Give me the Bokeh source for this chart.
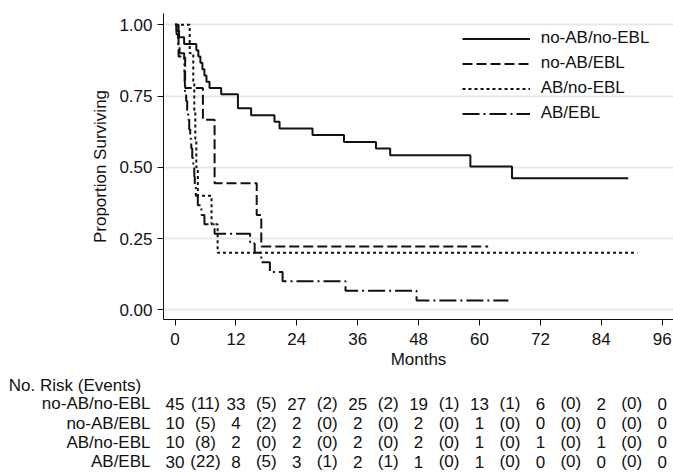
from bokeh.plotting import figure
from bokeh.models import Range1d, FixedTicker, Legend, LegendItem, PrintfTickFormatter
from bokeh.layouts import column
from bokeh.embed import file_html
from bokeh.resources import INLINE
from bokeh.core.properties import value

# ---------------- data ----------------
groups = ["no-AB/no-EBL", "no-AB/EBL", "AB/no-EBL", "AB/EBL"]
table_header = "No. Risk (Events)"

# Kaplan-Meier step curves (time in months, proportion surviving)
t_noab_noebl = [0, 0.3, 0.8, 1.8, 4.2, 4.6, 5.0, 5.4, 5.8, 6.2, 6.8, 9.1, 12.4, 15.0,
                19.6, 20.6, 27.1, 33.3, 39.6, 42.4, 58.2, 66.4, 89.3]
s_noab_noebl = [1.0, 0.978, 0.956, 0.933, 0.911, 0.889, 0.867, 0.844, 0.822, 0.800,
                0.778, 0.756, 0.707, 0.683, 0.660, 0.636, 0.613, 0.589, 0.566, 0.542,
                0.503, 0.462, 0.462]

t_noab_ebl = [0, 0.7, 2.0, 5.5, 7.8, 16.1, 17.0, 61.7]
s_noab_ebl = [1.0, 0.889, 0.778, 0.667, 0.444, 0.333, 0.222, 0.222]

t_ab_noebl = [0, 2.9, 3.6, 3.8, 4.0, 4.2, 4.5, 7.2, 8.4, 91.1]
s_ab_noebl = [1.0, 0.9, 0.8, 0.7, 0.6, 0.5, 0.4, 0.3, 0.2, 0.2]

t_ab_ebl = [0, 0.3, 0.6, 0.9, 1.8, 1.85, 1.9, 1.95, 2.2, 2.4, 2.6, 2.8, 3.0, 3.2, 3.4,
            3.6, 3.8, 3.9, 4.1, 4.5, 5.2, 5.8, 7.8, 14.8, 15.7, 17.0, 18.7, 21.2,
            33.6, 47.6, 65.7]
s_ab_ebl = [1.0, 0.967, 0.933, 0.900, 0.867, 0.833, 0.800, 0.767, 0.733, 0.700, 0.667,
            0.633, 0.600, 0.567, 0.533, 0.500, 0.467, 0.433, 0.400, 0.367, 0.333,
            0.300, 0.267, 0.233, 0.200, 0.167, 0.133, 0.100, 0.067, 0.033, 0.033]

# axis ticks
month_ticks = [0, 12, 24, 36, 48, 60, 72, 84, 96]
y_ticks = [0, 0.25, 0.5, 0.75, 1.0]

# risk table: number at risk at each tick, events in each interval
risk_noab_noebl = [45, 33, 27, 25, 19, 13, 6, 2, 0]
events_noab_noebl = [11, 5, 2, 2, 1, 1, 0, 0]
risk_noab_ebl = [10, 4, 2, 2, 2, 1, 0, 0, 0]
events_noab_ebl = [5, 2, 0, 0, 0, 0, 0, 0]
risk_ab_noebl = [10, 2, 2, 2, 2, 1, 1, 1, 0]
events_ab_noebl = [8, 0, 0, 0, 0, 0, 0, 0]
risk_ab_ebl = [30, 8, 3, 2, 1, 1, 0, 0, 0]
events_ab_ebl = [22, 5, 1, 1, 0, 0, 0, 0]

# ---------------- style / layout ----------------
FONT = "Liberation Sans"
FS = "17px"
INK = "#111111"
W, H = 673, 475
ML, MT = 163, 13
FRAME_H = 306
MB = 56
H1 = MT + FRAME_H + MB
H2 = H - H1
px_per_month = (661.7 - 174.5) / 96
x_lo = -(174.5 - ML) / px_per_month
x_hi = x_lo + (W - ML) / px_per_month
xr = Range1d(x_lo, x_hi)

p = figure(width=W, height=H1, x_range=xr, y_range=Range1d(-0.034, 1.0396),
           output_backend="svg", toolbar_location=None,
           min_border_left=ML, min_border_right=0, min_border_top=MT, min_border_bottom=MB)
p.outline_line_color = None
p.xgrid.visible = False
p.ygrid.ticker = FixedTicker(ticks=y_ticks)
p.ygrid.grid_line_color = "#e8e8e8"
p.ygrid.grid_line_width = 2

p.xaxis.ticker = FixedTicker(ticks=month_ticks)
p.yaxis.ticker = FixedTicker(ticks=y_ticks)
p.yaxis.formatter = PrintfTickFormatter(format="%.2f")
p.xaxis.axis_label = "Months"
p.yaxis.axis_label = "Proportion Surviving"
for ax in (p.xaxis[0], p.yaxis[0]):
    ax.axis_line_color = INK
    ax.axis_line_width = 1
    ax.major_tick_line_color = INK
    ax.major_tick_in = 0
    ax.major_tick_out = 6
    ax.minor_tick_line_color = None
    ax.major_label_text_font = FONT
    ax.major_label_text_font_size = FS
    ax.major_label_text_color = INK
    ax.axis_label_text_font = FONT
    ax.axis_label_text_font_size = FS
    ax.axis_label_text_font_style = "normal"
    ax.axis_label_text_color = INK
p.yaxis.major_label_standoff = 5
p.yaxis.axis_label_standoff = 6
p.xaxis.major_label_standoff = 7
p.xaxis.axis_label_standoff = 2

curves = [(t_noab_noebl, s_noab_noebl, "solid"),
          (t_noab_ebl, s_noab_ebl, "10 4"),
          (t_ab_noebl, s_ab_noebl, "3 3"),
          (t_ab_ebl, s_ab_ebl, "17 4 2 4")]
items = []
for (t, s, dash), name in zip(curves, groups):
    r = p.step(x=t, y=s, mode="after", line_color=INK, line_width=2, line_dash=dash)
    items.append(LegendItem(label=name, renderers=[r]))

legend = Legend(items=items, location=(298.7, 193.2), padding=0, margin=0, spacing=0,
                glyph_width=68, glyph_height=25, label_height=25, label_standoff=11,
                label_text_font=FONT, label_text_font_size=FS, label_text_color=INK,
                border_line_color=None, background_fill_alpha=0)
p.add_layout(legend)

# ---------------- risk table (second figure sharing the month axis) ----------------
header_y = 384 - H1          # header centre, in table-canvas pixels
row_pitch = 19.3
p2 = figure(width=W, height=H2, x_range=xr,
            y_range=Range1d((H2 - header_y) / row_pitch, -header_y / row_pitch),
            output_backend="svg", toolbar_location=None, x_axis_location=None,
            min_border_left=ML, min_border_right=0, min_border_top=0, min_border_bottom=0)
p2.grid.visible = False
p2.outline_line_color = None
ya = p2.yaxis[0]
ya.ticker = FixedTicker(ticks=list(range(len(groups) + 1)))
ya.major_label_overrides = {0: table_header + "\u00a0\u00a0", **{i + 1: g for i, g in enumerate(groups)}}
ya.axis_line_color = None
ya.major_tick_line_color = None
ya.minor_tick_line_color = None
ya.major_tick_in = 0
ya.major_tick_out = 0
ya.major_label_standoff = 13
ya.major_label_text_font = FONT
ya.major_label_text_font_size = FS
ya.major_label_text_color = INK

mids = [(a + b) / 2 for a, b in zip(month_ticks[:-1], month_ticks[1:])]
txt = dict(text_font=value(FONT), text_font_size=FS, text_color=INK,
           text_baseline="middle", text_align="center")
rows = [(risk_noab_noebl, events_noab_noebl), (risk_noab_ebl, events_noab_ebl),
        (risk_ab_noebl, events_ab_noebl), (risk_ab_ebl, events_ab_ebl)]
for i, (risk, ev) in enumerate(rows, start=1):
    p2.text(x=month_ticks, y=[i] * len(risk), text=[str(v) for v in risk], **txt)
    p2.text(x=mids, y=[i] * len(ev), text=["(%d)" % v for v in ev], **txt)

layout = column(p, p2, spacing=0)
open("out.html", "w").write(file_html(layout, INLINE))
